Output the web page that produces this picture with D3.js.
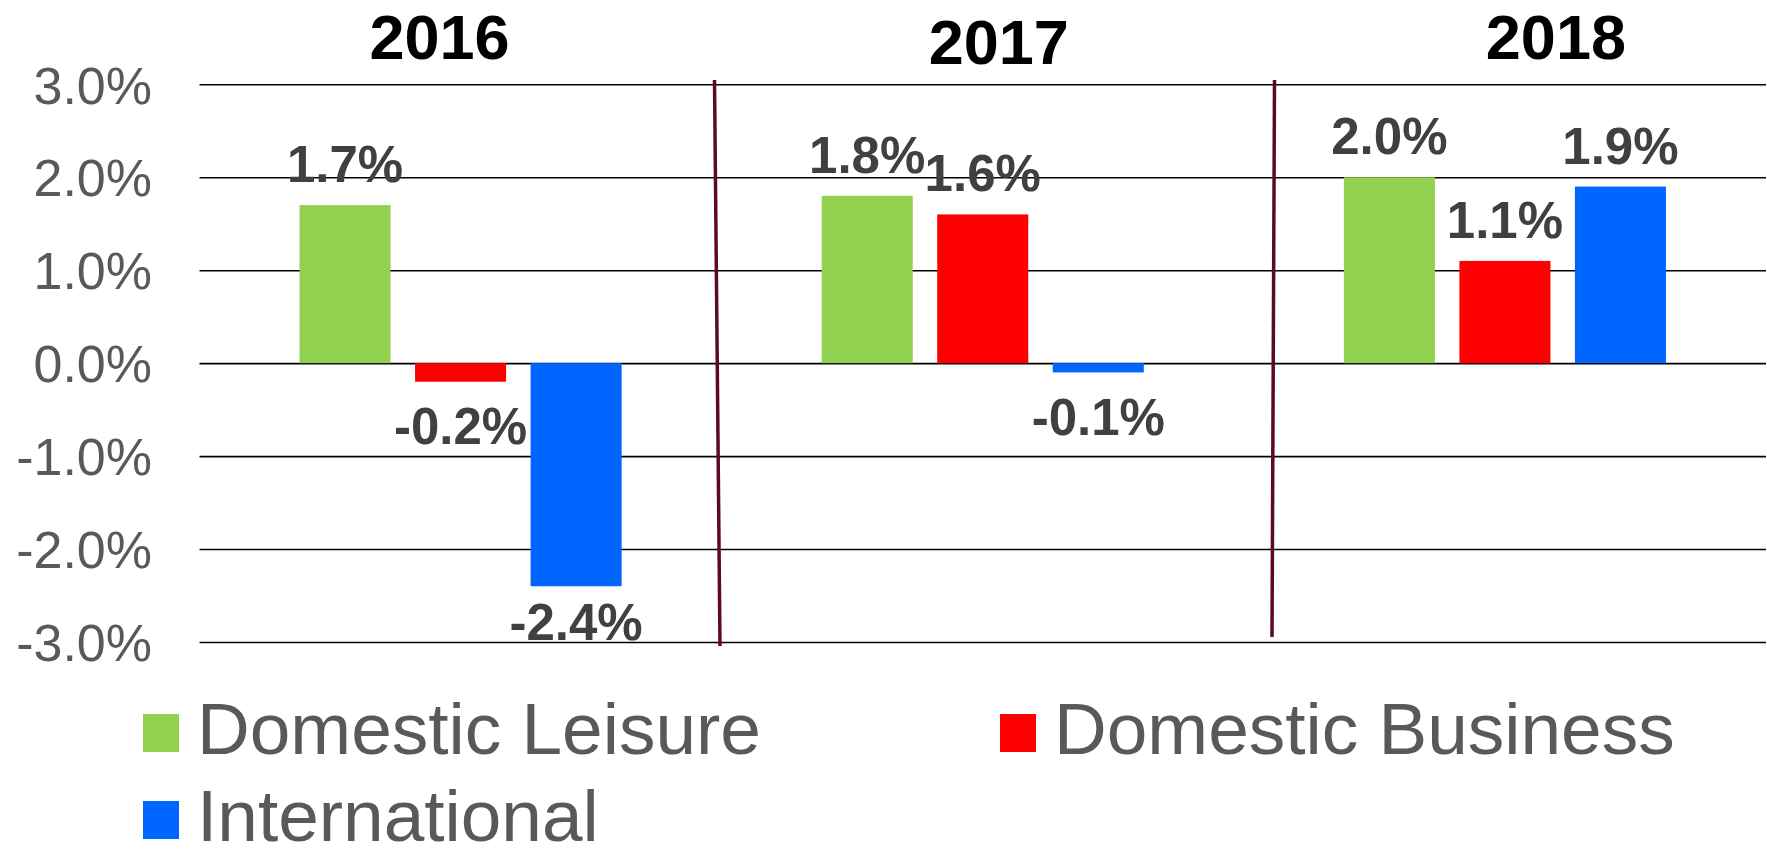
<!DOCTYPE html>
<html>
<head>
<meta charset="utf-8">
<script src="https://cdn.jsdelivr.net/npm/d3@7/dist/d3.min.js"></script>
<style>
  html, body { margin: 0; padding: 0; background: #fff; }
  svg { display: block; font-family: "Liberation Sans", Arial, sans-serif; }
</style>
</head>
<body>
<svg id="chart" width="1767" height="856"></svg>
<script>
// ---- data ----
const categories = ["2016", "2017", "2018"];
const seriesNames = ["Domestic Leisure", "Domestic Business", "International"];
const domesticLeisure = [1.7, 1.8, 2.0];
const domesticBusiness = [-0.2, 1.6, 1.1];
const international = [-2.4, -0.1, 1.9];
const yTicks = [-3, -2, -1, 0, 1, 2, 3];
const colors = ["#92D050", "#FF0000", "#0066FF"];

// ---- layout ----
const W = 1767, H = 856;
const plot = { left: 199.5, right: 1766, top: 84.3, bottom: 642 };
const titleOffsets = [-21, 16, 51];
const titleBaselines = [59.3, 64, 59.3];
const separators = [
  [[714.5, 80], [720, 646]],
  [[1274.5, 80], [1272, 637]]
];

const seriesValues = [domesticLeisure, domesticBusiness, international];
const table = categories.map((c, i) => ({
  category: c,
  values: seriesNames.map((s, j) => ({ series: s, idx: j, value: seriesValues[j][i] }))
}));

const svg = d3.select("#chart");

const x0 = d3.scaleBand().domain(categories).range([plot.left, plot.right]).paddingInner(0).paddingOuter(0);
const x1 = d3.scaleBand().domain(seriesNames).range([0, x0.bandwidth()]).paddingInner(0.212).paddingOuter(0.866);
const y = d3.scaleLinear().domain([-3, 3]).range([plot.bottom, plot.top]);

// gridlines + y axis labels
const yAxis = d3.axisLeft(y)
  .tickValues(yTicks)
  .tickFormat(d => d.toFixed(1) + "%")
  .tickSize(-(plot.right - plot.left))
  .tickPadding(47.5);

const gAxis = svg.append("g")
  .attr("transform", `translate(${plot.left},0)`)
  .call(yAxis);
gAxis.select(".domain").remove();
gAxis.selectAll(".tick line").attr("stroke", "#000").attr("stroke-width", 1.6);
gAxis.selectAll(".tick text")
  .attr("fill", "#595959")
  .attr("font-size", 52)
  .attr("dy", "0.36em");

// bars
const groups = svg.append("g").selectAll("g")
  .data(table).join("g")
  .attr("transform", d => `translate(${x0(d.category)},0)`);

groups.selectAll("rect")
  .data(d => d.values).join("rect")
  .attr("x", d => x1(d.series))
  .attr("width", x1.bandwidth())
  .attr("y", d => y(Math.max(0, d.value)))
  .attr("height", d => Math.abs(y(d.value) - y(0)))
  .attr("fill", d => colors[d.idx]);

// data labels
groups.selectAll("text.lbl")
  .data(d => d.values).join("text")
  .attr("class", "lbl")
  .attr("x", d => x1(d.series) + x1.bandwidth() / 2)
  .attr("y", d => d.value >= 0 ? y(d.value) - 23 : Math.min(y(d.value) + 62.5, plot.bottom - 2))
  .attr("text-anchor", "middle")
  .attr("font-size", 51)
  .attr("font-weight", "bold")
  .attr("fill", "#404040")
  .text(d => d.value.toFixed(1) + "%");

// year titles
svg.append("g").selectAll("text")
  .data(categories).join("text")
  .attr("x", (d, i) => x0(d) + x0.bandwidth() / 2 + titleOffsets[i])
  .attr("y", (d, i) => titleBaselines[i])
  .attr("text-anchor", "middle")
  .attr("font-size", 63)
  .attr("font-weight", "bold")
  .attr("fill", "#000")
  .text(d => d);

// separators
svg.append("g").selectAll("line")
  .data(separators).join("line")
  .attr("x1", d => d[0][0]).attr("y1", d => d[0][1])
  .attr("x2", d => d[1][0]).attr("y2", d => d[1][1])
  .attr("stroke", "#5C0A1E")
  .attr("stroke-width", 3.5);

// legend
const legendPos = [[143, 714], [1000, 714], [143, 801]];
const leg = svg.append("g").selectAll("g")
  .data(seriesNames).join("g")
  .attr("transform", (d, i) => `translate(${legendPos[i][0]},${legendPos[i][1]})`);
leg.append("rect")
  .attr("width", 36).attr("height", 38)
  .attr("fill", (d, i) => colors[i]);
leg.append("text")
  .attr("x", 54)
  .attr("y", 40)
  .attr("font-size", 73)
  .attr("fill", "#595959")
  .text(d => d);
</script>
</body>
</html>
